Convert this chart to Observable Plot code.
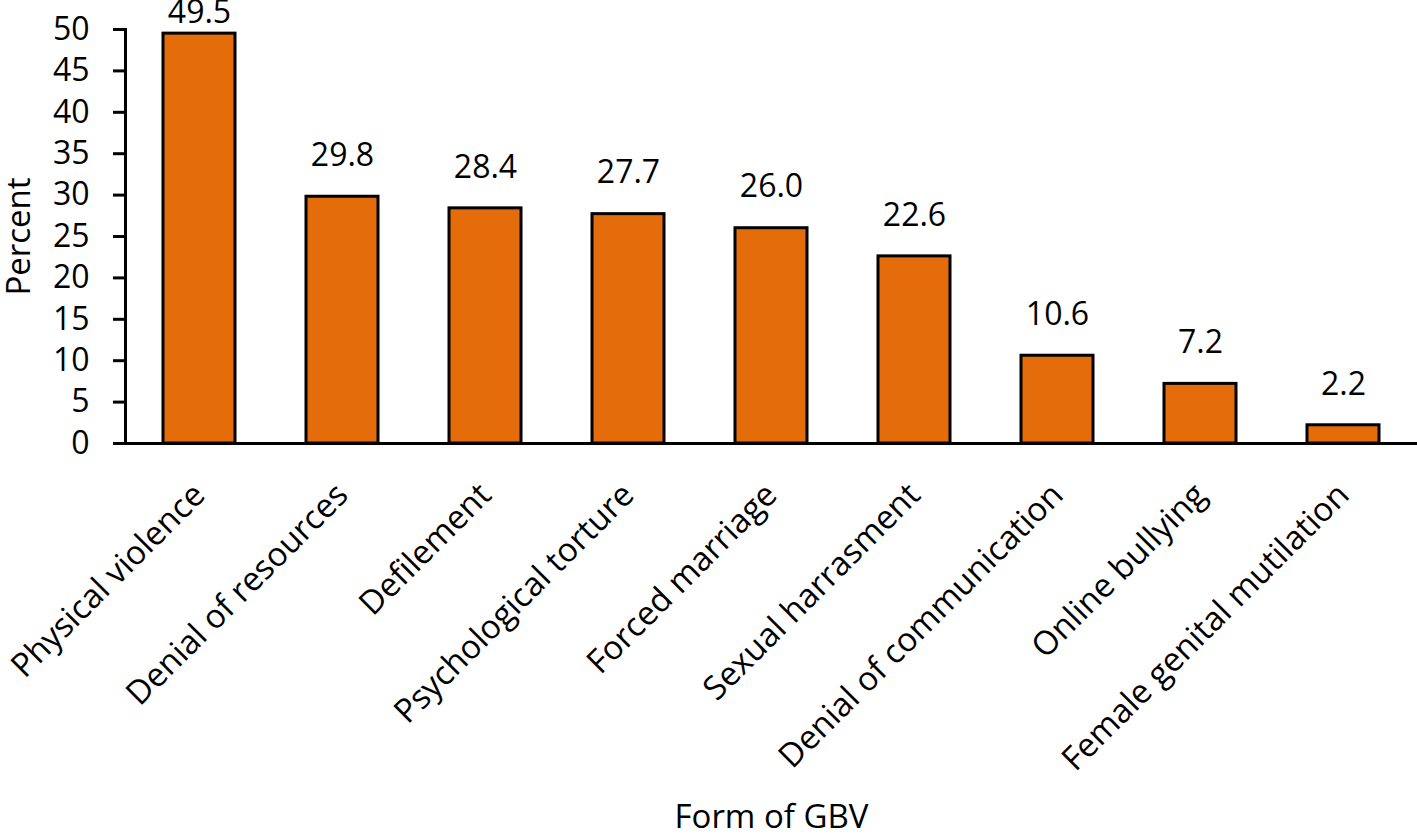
<!DOCTYPE html>
<html>
<head>
<meta charset="utf-8">
<script src="https://cdn.jsdelivr.net/npm/d3@7"></script>
<script src="https://cdn.jsdelivr.net/npm/@observablehq/plot@0.6"></script>
<style>
  html, body { margin: 0; padding: 0; background: white; }
</style>
</head>
<body>
<div id="chart"></div>
<script>
const categories = ["Physical violence", "Denial of resources", "Defilement", "Psychological torture", "Forced marriage", "Sexual harrasment", "Denial of communication", "Online bullying", "Female genital mutilation"];
const values = [49.5, 29.8, 28.4, 27.7, 26.0, 22.6, 10.6, 7.2, 2.2];
const yTicks = [0, 5, 10, 15, 20, 25, 30, 35, 40, 45, 50];
const xTitle = "Form of GBV";
const yTitle = "Percent";

const data = categories.map((c, i) => ({category: c, value: values[i]}));

const chart = Plot.plot({
  width: 1417,
  height: 836,
  marginLeft: 125,
  marginRight: 0,
  marginTop: 29,
  marginBottom: 393,
  style: {fontFamily: "'Open Sans'", background: "white", color: "black", overflow: "visible"},
  x: {domain: categories, paddingInner: 0.5, paddingOuter: 0.25},
  y: {domain: [0, 50]},
  marks: [
    Plot.barY(data, {x: "category", y: "value", fill: "#E46C0A", stroke: "black", strokeWidth: 3}),
    Plot.ruleY([0], {stroke: "black", strokeWidth: 3}),
    Plot.axisY({ticks: yTicks, tickSize: 12, tickPadding: 24, strokeWidth: 3, fontSize: 32, label: null}),
    Plot.frame({anchor: "left", stroke: "black", strokeWidth: 3}),
    Plot.axisX({tickRotate: -45, tickSize: 0, tickPadding: 46, fontSize: 33, label: null}),
    Plot.text(data, {
      x: "category",
      y: d => Math.min(d.value + 4.95, 52.05),
      text: d => d.value.toFixed(1),
      fontSize: 32,
      lineAnchor: "middle"
    }),
    Plot.text([yTitle], {frameAnchor: "left", dx: -106, rotate: -90, fontSize: 33, textAnchor: "middle", lineAnchor: "middle"}),
    Plot.text([xTitle], {frameAnchor: "bottom", dy: 374, fontSize: 33, textAnchor: "middle", lineAnchor: "middle"})
  ]
});
document.getElementById("chart").appendChild(chart);
</script>
</body>
</html>
